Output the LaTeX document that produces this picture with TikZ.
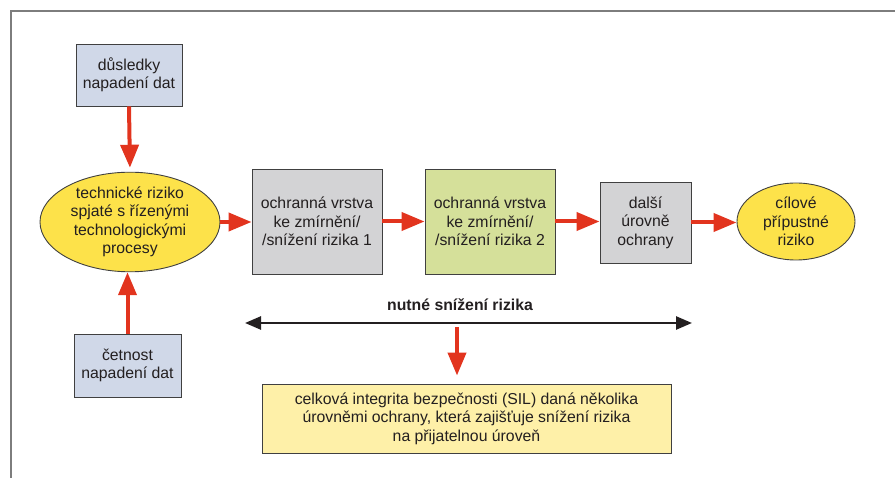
\documentclass[tikz,border=0pt]{standalone}
\usepackage{fontspec}
\setmainfont{Liberation Sans}
\usetikzlibrary{arrows.meta,shapes.geometric}
\definecolor{boxblue}{RGB}{208,216,232}
\definecolor{ellyellow}{RGB}{253,226,74}
\definecolor{boxgray}{RGB}{211,211,213}
\definecolor{boxgreen}{RGB}{213,224,154}
\definecolor{boxlight}{RGB}{254,240,168}
\definecolor{arrred}{RGB}{226,52,30}
\definecolor{framegray}{RGB}{125,125,125}
\definecolor{txt}{RGB}{35,31,32}
\begin{document}
\begin{tikzpicture}[x=1pt,y=-1pt,
  every node/.style={font=\fontsize{15.8}{18.5}\selectfont, align=center, text=txt},
  bx/.style={draw=black!75, line width=0.9pt, inner sep=0pt},
  blubox/.style={bx, fill=boxblue, minimum width=106pt, minimum height=62pt},
  ell/.style={bx, ellipse, fill=ellyellow},
  redarr/.style={draw=arrred, line width=4pt, -{Triangle[length=23pt,width=18pt]}},
  blkarr/.style={draw=txt, line width=2.5pt, {Triangle[length=16pt,width=13pt]}-{Triangle[length=16pt,width=13pt]}}
]
\useasboundingbox (0,0) rectangle (895,478);
\draw[framegray, line width=1.6pt] (11,478) -- (11,11) -- (895,11);

\node[blubox] (d1) at (129,75) {důsledky\\napadení dat};
\node[blubox, minimum width=107pt, minimum height=63pt] (d2) at (127.5,365.5) {četnost\\napadení dat};
\node[ell, minimum width=180pt, minimum height=89pt] (e1) at (130,222) {technické riziko\\spjaté s řízenými\\technologickými\\procesy};
\node[bx, fill=boxgray, minimum width=130pt, minimum height=105pt] (b1) at (317,221.5) {ochranná vrstva\\ke zmírnění/\\/snížení rizika 1};
\node[bx, fill=boxgreen, minimum width=130pt, minimum height=105pt] (b2) at (490,221.5) {ochranná vrstva\\ke zmírnění/\\/snížení rizika 2};
\node[bx, fill=boxgray, minimum width=91pt, minimum height=81pt] (b3) at (645.5,222.5) {další\\úrovně\\ochrany};
\node[ell, minimum width=118pt, minimum height=77pt] (e2) at (796,221.5) {cílové\\přípustné\\riziko};

\draw[redarr, shorten >=4pt] (d1.south) -- (e1.north);
\draw[redarr] (d2.north) -- (d2.north |- e1.south);
\draw[redarr] (e1.east) -- (e1.east -| b1.west);
\draw[redarr] (b1.east) -- (b2.west);
\draw[redarr] (b2.east) -- (b2.east -| b3.west);
\draw[redarr] (b3.east) -- (b3.east -| e2.west);

\coordinate (la) at (245,323);
\coordinate (ra) at (692,323);
\draw[blkarr] (la) -- (ra);
\node[font=\fontsize{15.8}{18.5}\selectfont\bfseries] (lbl) at (460,305) {nutné snížení rizika};

\node[bx, fill=boxlight, minimum width=409pt, minimum height=69pt] (sil) at (466.5,418.5) {celková integrita bezpečnosti (SIL) daná několika\\úrovněmi ochrany, která zajišťuje snížení rizika\\na přijatelnou úroveň};
\coordinate (sa) at (457,327);
\draw[redarr, shorten >=8pt] (sa) -- (sa |- sil.north);
\end{tikzpicture}
\end{document}
